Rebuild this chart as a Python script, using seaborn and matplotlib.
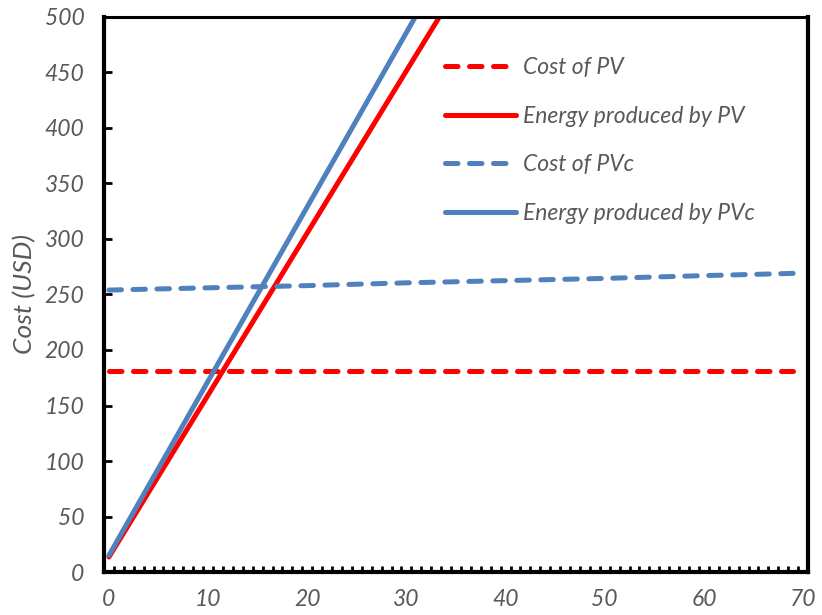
import numpy as np
import pandas as pd
import matplotlib
matplotlib.use("Agg")
import matplotlib.pyplot as plt
import seaborn as sns

# ---- data ----
cost_pv_x = [0, 69]
cost_pv_y = [181, 181]

energy_pv_x = [0, 10, 20, 30, 36]
energy_pv_y = [13.5, 159.5, 305.5, 451.5, 539]

cost_pvc_x = [0, 10, 20, 30, 40, 50, 60, 69]
cost_pvc_y = [254, 256, 258, 260.5, 262.5, 264.5, 267, 269]

energy_pvc_x = [0, 10, 20, 30, 34]
energy_pvc_y = [15, 172, 329, 486, 549]

x_ticks = [0, 10, 20, 30, 40, 50, 60, 70]
y_ticks = [0, 50, 100, 150, 200, 250, 300, 350, 400, 450, 500]
labels = ["Cost of PV", "Energy produced by PV", "Cost of PVc", "Energy produced by PVc"]
ylabel = "Cost (USD)"

RED = "#FF0000"
BLUE = "#4F81BD"
GREY = "#595959"

sns.set_theme(style="white")
plt.rcParams["font.family"] = ["Lato", "DejaVu Sans"]

fig = plt.figure(figsize=(8.22, 6.15), dpi=100)
ax = fig.add_axes([0.1265, 0.0699, 0.8565, 0.9025])

lw = 3.6
dash = (0, (2.5, 2.3))
sns.lineplot(x=cost_pv_x, y=cost_pv_y, ax=ax, color=RED, lw=lw, linestyle=dash,
             dash_capstyle="round", label=labels[0])
sns.lineplot(x=energy_pv_x, y=energy_pv_y, ax=ax, color=RED, lw=lw,
             solid_capstyle="round", label=labels[1])
sns.lineplot(x=cost_pvc_x, y=cost_pvc_y, ax=ax, color=BLUE, lw=lw, linestyle=dash,
             dash_capstyle="round", label=labels[2])
sns.lineplot(x=energy_pvc_x, y=energy_pvc_y, ax=ax, color=BLUE, lw=lw,
             solid_capstyle="round", label=labels[3])

ax.set_xlim(-0.5, 70.5)
ax.set_ylim(0, 500)
ax.set_xticks(x_ticks)
ax.set_xticks(np.arange(0.5, 70, 1.0), minor=True)
ax.set_yticks(y_ticks)
ax.set_xticklabels([str(v) for v in x_ticks])
ax.set_yticklabels([str(v) for v in y_ticks])

for s in ax.spines.values():
    s.set_visible(True)
    s.set_color("black")
    s.set_linewidth(3)
ax.spines["top"].set_linewidth(2.2)

ax.tick_params(axis="x", which="major", length=0, pad=12, labelsize=16.5, labelcolor=GREY)
ax.tick_params(axis="x", which="minor", direction="in", length=4, width=2, color="black",
               bottom=True)
ax.tick_params(axis="y", which="major", direction="in", length=6, width=2, color="black",
               left=True, pad=14, labelsize=16.5, labelcolor=GREY)
for t in ax.get_xticklabels() + ax.get_yticklabels():
    t.set_fontstyle("italic")

ax.set_xlabel("")
ax.set_ylabel(ylabel, fontsize=19, color=GREY, fontstyle="italic", labelpad=6)

leg = ax.legend(loc="upper left", bbox_to_anchor=(0.484, 0.928), frameon=False,
                fontsize=16.5, handlelength=3.1, handletextpad=0.3, labelspacing=1.21,
                borderpad=0, borderaxespad=0)
for t in leg.get_texts():
    t.set_color(GREY)
    t.set_fontstyle("italic")

fig.savefig("out.png", dpi=100)
